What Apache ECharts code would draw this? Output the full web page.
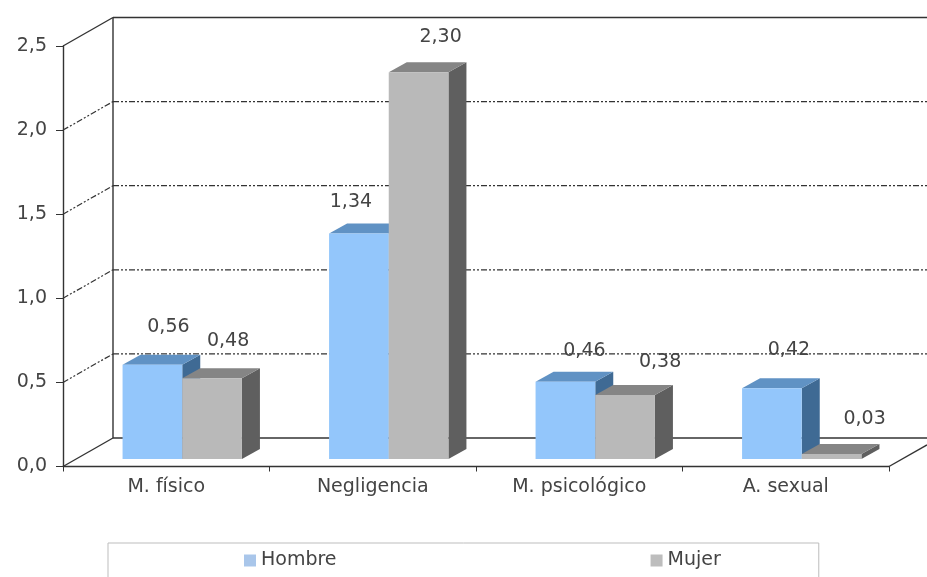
<!DOCTYPE html>
<html>
<head>
<meta charset="utf-8">
<style>html,body{margin:0;padding:0;background:#fff;overflow:hidden}#c{width:927px;height:577px}</style>
<script src="https://cdn.jsdelivr.net/npm/echarts@6/dist/echarts.min.js"></script>
</head>
<body>
<div id="c"></div>
<script>
const categories = ['M. físico', 'Negligencia', 'M. psicológico', 'A. sexual'];
const hombre = [0.56, 1.34, 0.46, 0.42];
const mujer = [0.48, 2.30, 0.38, 0.03];
const yTicks = [0, 0.5, 1, 1.5, 2, 2.5];

const FONT = '19px "DejaVu Sans"';
const INK = '#444';
const WALL = { dx: 50, dy: -28.5 };
const DEPTH = { dx: 18, dy: -10 };
const INSET = { dx: 16, dy: -7.5 };
const skins = [
  { front: '#93c6fb', top: '#6092c4', side: '#3f6a94' },
  { front: '#b9b9b9', top: '#858585', side: '#5f5f5f' }
];
// hand placement of the value labels relative to the bar's top-front centre
const labelShift = [
  [[16, -38], [-8, -32], [19, -31], [17, -38]],
  [[16, -37], [22, -35], [35, -33], [33, -35]]
];

function poly(points, fill) {
  return { type: 'polygon', shape: { points }, style: { fill, stroke: null } };
}

function barItem(seriesIdx) {
  return function (params, api) {
    const cat = api.value(0), val = api.value(1);
    const base = api.coord([cat, 0]);
    const topPt = api.coord([cat, val]);
    const w = api.size([1, 0])[0] * 0.289;
    const xL = base[0] + INSET.dx + (seriesIdx - 1) * w;
    const xR = xL + w;
    const yB = base[1] + INSET.dy;
    const yT = topPt[1] + INSET.dy;
    const s = skins[seriesIdx];
    const d = DEPTH;
    const shift = labelShift[seriesIdx][cat];
    return {
      type: 'group',
      children: [
        poly([[xR, yT], [xR + d.dx, yT + d.dy], [xR + d.dx, yB + d.dy], [xR, yB]], s.side),
        poly([[xL, yT], [xL + d.dx, yT + d.dy], [xR + d.dx, yT + d.dy], [xR, yT]], s.top),
        poly([[xL, yT], [xR, yT], [xR, yB], [xL, yB]], s.front),
        {
          type: 'text',
          z2: 50,
          style: {
            x: (xL + xR) / 2 + shift[0],
            y: yT + shift[1],
            text: val.toFixed(2).replace('.', ','),
            font: FONT,
            fill: INK,
            align: 'center',
            verticalAlign: 'middle'
          }
        }
      ]
    };
  };
}

function wallItem(params, api) {
  const v = api.value(0);
  const cs = params.coordSys;
  const p = api.coord([0, v]);
  const x0 = cs.x, y = p[1];
  const x1 = x0 + WALL.dx, y1 = y + WALL.dy;
  const solid = v === 0 || v === yTicks[yTicks.length - 1];
  const style = solid
    ? { stroke: '#333', lineWidth: 1.4, fill: null }
    : { stroke: '#333', lineWidth: 1.2, fill: null, lineDash: [6, 2, 2, 2, 2, 2] };
  const kids = [
    { type: 'line', shape: { x1: x0, y1: y, x2: x1, y2: y1 }, style },
    { type: 'line', shape: { x1: x1, y1: y1, x2: 927, y2: y1 }, style }
  ];
  if (v === 0) {
    kids.push({ type: 'line', shape: { x1: x0 + cs.width, y1: y, x2: 927, y2: y + (927 - x0 - cs.width) * WALL.dy / WALL.dx }, style });
    kids.push({ type: 'line', shape: { x1: x1, y1: y1, x2: x1, y2: cs.y + WALL.dy }, style: { stroke: '#333', lineWidth: 1.4, fill: null } });
  }
  return { type: 'group', children: kids };
}

const chart = echarts.init(document.getElementById('c'), null, { renderer: 'canvas' });
chart.setOption({
  animation: false,
  backgroundColor: '#fff',
  grid: { left: 63, right: 38, top: 46, bottom: 110.5 },
  xAxis: {
    type: 'category',
    data: categories,
    boundaryGap: true,
    axisLine: { lineStyle: { color: '#333', width: 1.4 } },
    axisTick: { show: true, alignWithLabel: false, length: 5, lineStyle: { color: '#333' } },
    axisLabel: { fontFamily: 'DejaVu Sans', fontSize: 19, color: INK, margin: 11 },
    splitLine: { show: false }
  },
  yAxis: {
    type: 'value',
    min: 0,
    max: 2.5,
    interval: 0.5,
    axisLine: { show: true, lineStyle: { color: '#333', width: 1.4 } },
    axisTick: { show: true, length: 7, lineStyle: { color: '#333' } },
    axisLabel: {
      fontFamily: 'DejaVu Sans', fontSize: 19, color: INK, margin: 16,
      formatter: v => v.toFixed(1).replace('.', ',')
    },
    splitLine: { show: false }
  },
  legend: {
    left: 108,
    top: 543,
    data: [
      { name: 'Hombre', itemStyle: { color: '#a9c6ea' } },
      { name: 'Mujer', itemStyle: { color: '#bdbdbd' } }
    ],
    icon: 'rect',
    itemWidth: 12,
    itemHeight: 12,
    itemGap: 314,
    padding: [8, 98, 40, 136],
    borderColor: '#bdbdbd',
    borderWidth: 1,
    textStyle: { fontFamily: 'DejaVu Sans', fontSize: 19, color: INK }
  },
  series: [
    {
      type: 'custom', name: 'pared', silent: true, z: 1,
      data: yTicks.map(v => [v]),
      encode: { y: 0 },
      renderItem: wallItem,
      clip: false
    },
    {
      type: 'custom', name: 'Hombre', z: 3,
      data: hombre.map((v, i) => [i, v]),
      encode: { x: 0, y: 1 },
      itemStyle: { color: '#a9c6ea' },
      renderItem: barItem(0),
      clip: false
    },
    {
      type: 'custom', name: 'Mujer', z: 4,
      data: mujer.map((v, i) => [i, v]),
      encode: { x: 0, y: 1 },
      itemStyle: { color: '#bdbdbd' },
      renderItem: barItem(1),
      clip: false
    }
  ]
});
</script>
</body>
</html>
